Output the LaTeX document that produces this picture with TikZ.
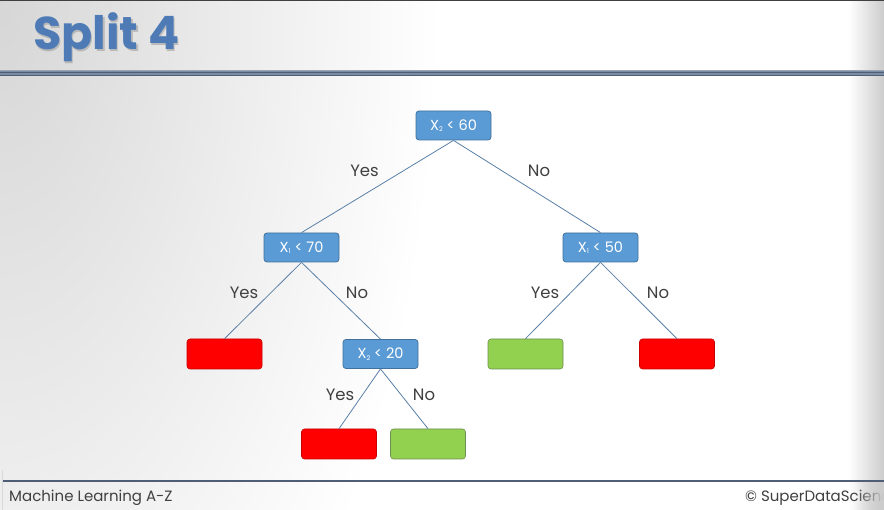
\documentclass[tikz,border=0pt]{standalone}
\usepackage{fontspec}
\setmainfont{Poppins}
\newfontfamily\titlefont{Poppins}
\usetikzlibrary{fadings}
\definecolor{nodeblue}{HTML}{5B9BD5}
\definecolor{nodeedge}{HTML}{41719C}
\definecolor{linkblue}{HTML}{5B80A8}
\definecolor{leafred}{HTML}{FF0000}
\definecolor{leafrededge}{HTML}{C80000}
\definecolor{leafgreen}{HTML}{92D050}
\definecolor{leafgreenedge}{HTML}{6E8F52}
\definecolor{titleblue}{HTML}{4E7BB6}
\definecolor{stripe}{HTML}{7B8CA3}
\definecolor{stripedark}{HTML}{4E5E76}
\definecolor{footgray}{HTML}{404040}
\newcommand{\sub}[1]{{\fontsize{6.5pt}{6.5pt}\selectfont\raisebox{-1.6pt}{#1}}}
\tikzset{
  test/.style={rectangle, rounded corners=3pt, fill=nodeblue, draw=nodeedge,
    line width=0.8pt, minimum width=75pt, minimum height=29pt, text=white,
    font=\fontsize{14.5pt}{14.5pt}\selectfont, inner sep=0pt},
  leafno/.style={rectangle, rounded corners=3pt, fill=leafred, draw=leafrededge,
    line width=0.6pt, minimum width=75pt, minimum height=30pt, inner sep=0pt},
  leafyes/.style={rectangle, rounded corners=3pt, fill=leafgreen, draw=leafgreenedge,
    line width=0.6pt, minimum width=75pt, minimum height=30pt, inner sep=0pt},
  link/.style={draw=linkblue, line width=0.8pt},
  answer/.style={text=footgray, font=\fontsize{16.5pt}{16.5pt}\selectfont, inner sep=0pt},
  foot/.style={anchor=base west, inner sep=0pt, text=footgray, font=\fontsize{15pt}{15pt}\selectfont}
}
\begin{document}
\begin{tikzpicture}[x=1pt,y=-1pt]
\useasboundingbox (0,0) rectangle (884,510);
\begin{scope}
\clip (0,0) rectangle (884,510);
% slide background: grey corner glow on the left, grey rim on the right
\fill[white] (0,0) rectangle (884,510);
\shade[inner color=black!16, outer color=white] (0,0) ellipse [x radius=440, y radius=850];
\shade[left color=white, right color=black!20] (848,0) rectangle (884,510);
% top border
\fill[black!75] (0,0) rectangle (884,1.5);
% title with its soft shadow
\node[anchor=base west, inner sep=0pt, text=black!40, opacity=0.55, font=\titlefont\fontsize{46pt}{46pt}\selectfont\bfseries] (titleshadow) at (34.5,51.5) {Split 4};
\node[anchor=base west, inner sep=0pt, text=titleblue, font=\titlefont\fontsize{46pt}{46pt}\selectfont\bfseries] (title) at (33,50) {Split 4};
% header stripe
\fill[stripe] (0,70) rectangle (884,76.5);
\fill[black!10!stripe!70!white] (0,70) rectangle (884,71);
\draw[stripedark, line width=1pt] (0,72.5) -- (884,72.5);
\draw[stripedark, line width=1pt] (0,75.8) -- (884,75.8);
% footer
\draw[stripedark, line width=1.1pt] (2,481) -- (884,481);
\draw[black!15, line width=0.6pt] (2.5,470) -- (2.5,510);
\node[foot] (course) at (9,502) {Machine Learning A-Z};
\node[foot] (copyright) at (745,502) {© SuperDataScience};
\fill[black!20, path fading=west] (855,482) rectangle (884,510);
\end{scope}

% decision tree
\node[test] (root) at (453.5,125.5) {X\sub{2} < 60};
\node[test] (xa) at (301.5,247.5) {X\sub{1} < 70};
\node[test] (xb) at (600.5,247.5) {X\sub{1} < 50};
\node[leafno] (l1) at (224.5,354) {};
\node[test] (xc) at (380.5,354) {X\sub{2} < 20};
\node[leafyes] (l2) at (525.5,354) {};
\node[leafno] (l3) at (677,354) {};
\node[leafno] (l4) at (339,444) {};
\node[leafyes] (l5) at (428,444) {};

\draw[link] (root.south) -- (xa.north);
\draw[link] (root.south) -- (xb.north);
\draw[link] (xa.south) -- (l1.north);
\draw[link] (xa.south) -- (xc.north);
\draw[link] (xb.south) -- (l2.north);
\draw[link] (xb.south) -- (l3.north);
\draw[link] (xc.south) -- (l4.north);
\draw[link] (xc.south) -- (l5.north);

\node[answer] (y1) at (364.5,171) {Yes};
\node[answer] (n1) at (539,171) {No};
\node[answer] (y2) at (244,293) {Yes};
\node[answer] (n2) at (357,293) {No};
\node[answer] (y3) at (545,293) {Yes};
\node[answer] (n3) at (658,293) {No};
\node[answer] (y4) at (340,395) {Yes};
\node[answer] (n4) at (424,395) {No};
\end{tikzpicture}
\end{document}
